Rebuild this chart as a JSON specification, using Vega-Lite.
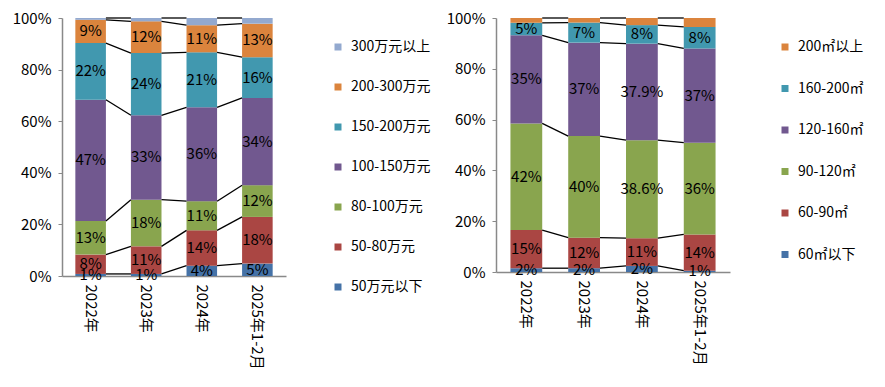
{
  "$schema": "https://vega.github.io/schema/vega-lite/v6.json",
  "padding": {"left": 12, "top": 11, "right": 5, "bottom": 5},
  "config": {
    "font": "Noto Sans CJK SC",
    "view": {"stroke": null},
    "axisY": {"grid": false, "values": [0, 0.2, 0.4, 0.6, 0.8, 1], "format": ".0%", "domainColor": "#898989", "domainWidth": 1.5, "tickColor": "#898989", "tickSize": 4, "labelFontSize": 15, "labelColor": "#000", "labelPadding": 7},
    "axisX": {"grid": false, "labelAngle": 90, "labelAlign": "left", "labelBaseline": "middle", "ticks": false, "domainColor": "#898989", "domainWidth": 1.5, "labelFontSize": 15, "labelColor": "#000", "labelPadding": 8},
    "legend": {"symbolType": "square", "symbolSize": 49, "symbolStrokeWidth": 0, "labelFontSize": 14, "labelColor": "#000", "labelOffset": 6, "padding": 0}
  },
  "datasets": {
    "price": [
      {"cat": "2022年", "s": "50万元以下", "o": 0, "v": 0.8, "label": "1%"},
      {"cat": "2022年", "s": "50-80万元", "o": 1, "v": 7.5, "label": "8%"},
      {"cat": "2022年", "s": "80-100万元", "o": 2, "v": 13.0, "label": "13%"},
      {"cat": "2022年", "s": "100-150万元", "o": 3, "v": 47.0, "label": "47%"},
      {"cat": "2022年", "s": "150-200万元", "o": 4, "v": 22.0, "label": "22%"},
      {"cat": "2022年", "s": "200-300万元", "o": 5, "v": 9.0, "label": "9%"},
      {"cat": "2022年", "s": "300万元以上", "o": 6, "v": 0.7, "label": ""},
      {"cat": "2023年", "s": "50万元以下", "o": 0, "v": 0.8, "label": "1%"},
      {"cat": "2023年", "s": "50-80万元", "o": 1, "v": 10.7, "label": "11%"},
      {"cat": "2023年", "s": "80-100万元", "o": 2, "v": 18.1, "label": "18%"},
      {"cat": "2023年", "s": "100-150万元", "o": 3, "v": 32.7, "label": "33%"},
      {"cat": "2023年", "s": "150-200万元", "o": 4, "v": 24.1, "label": "24%"},
      {"cat": "2023年", "s": "200-300万元", "o": 5, "v": 12.3, "label": "12%"},
      {"cat": "2023年", "s": "300万元以上", "o": 6, "v": 1.3, "label": ""},
      {"cat": "2024年", "s": "50万元以下", "o": 0, "v": 4.0, "label": "4%"},
      {"cat": "2024年", "s": "50-80万元", "o": 1, "v": 13.7, "label": "14%"},
      {"cat": "2024年", "s": "80-100万元", "o": 2, "v": 11.3, "label": "11%"},
      {"cat": "2024年", "s": "100-150万元", "o": 3, "v": 36.4, "label": "36%"},
      {"cat": "2024年", "s": "150-200万元", "o": 4, "v": 21.3, "label": "21%"},
      {"cat": "2024年", "s": "200-300万元", "o": 5, "v": 10.5, "label": "11%"},
      {"cat": "2024年", "s": "300万元以上", "o": 6, "v": 2.8, "label": ""},
      {"cat": "2025年1-2月", "s": "50万元以下", "o": 0, "v": 4.8, "label": "5%"},
      {"cat": "2025年1-2月", "s": "50-80万元", "o": 1, "v": 18.1, "label": "18%"},
      {"cat": "2025年1-2月", "s": "80-100万元", "o": 2, "v": 12.3, "label": "12%"},
      {"cat": "2025年1-2月", "s": "100-150万元", "o": 3, "v": 33.8, "label": "34%"},
      {"cat": "2025年1-2月", "s": "150-200万元", "o": 4, "v": 15.8, "label": "16%"},
      {"cat": "2025年1-2月", "s": "200-300万元", "o": 5, "v": 13.0, "label": "13%"},
      {"cat": "2025年1-2月", "s": "300万元以上", "o": 6, "v": 2.2, "label": ""}
    ],
    "area": [
      {"cat": "2022年", "s": "60㎡以下", "o": 0, "v": 1.5, "label": "2%"},
      {"cat": "2022年", "s": "60-90㎡", "o": 1, "v": 15.0, "label": "15%"},
      {"cat": "2022年", "s": "90-120㎡", "o": 2, "v": 42.0, "label": "42%"},
      {"cat": "2022年", "s": "120-160㎡", "o": 3, "v": 34.7, "label": "35%"},
      {"cat": "2022年", "s": "160-200㎡", "o": 4, "v": 4.9, "label": "5%"},
      {"cat": "2022年", "s": "200㎡以上", "o": 5, "v": 1.9, "label": ""},
      {"cat": "2023年", "s": "60㎡以下", "o": 0, "v": 1.5, "label": "2%"},
      {"cat": "2023年", "s": "60-90㎡", "o": 1, "v": 12.0, "label": "12%"},
      {"cat": "2023年", "s": "90-120㎡", "o": 2, "v": 40.0, "label": "40%"},
      {"cat": "2023年", "s": "120-160㎡", "o": 3, "v": 36.8, "label": "37%"},
      {"cat": "2023年", "s": "160-200㎡", "o": 4, "v": 7.9, "label": "7%"},
      {"cat": "2023年", "s": "200㎡以上", "o": 5, "v": 1.8, "label": ""},
      {"cat": "2024年", "s": "60㎡以下", "o": 0, "v": 2.4, "label": "2%"},
      {"cat": "2024年", "s": "60-90㎡", "o": 1, "v": 10.9, "label": "11%"},
      {"cat": "2024年", "s": "90-120㎡", "o": 2, "v": 38.6, "label": "38.6%"},
      {"cat": "2024年", "s": "120-160㎡", "o": 3, "v": 38.0, "label": "37.9%"},
      {"cat": "2024年", "s": "160-200㎡", "o": 4, "v": 7.3, "label": "8%"},
      {"cat": "2024年", "s": "200㎡以上", "o": 5, "v": 2.8, "label": ""},
      {"cat": "2025年1-2月", "s": "60㎡以下", "o": 0, "v": 0.5, "label": "1%"},
      {"cat": "2025年1-2月", "s": "60-90㎡", "o": 1, "v": 14.3, "label": "14%"},
      {"cat": "2025年1-2月", "s": "90-120㎡", "o": 2, "v": 36.1, "label": "36%"},
      {"cat": "2025年1-2月", "s": "120-160㎡", "o": 3, "v": 37.1, "label": "37%"},
      {"cat": "2025年1-2月", "s": "160-200㎡", "o": 4, "v": 8.5, "label": "8%"},
      {"cat": "2025年1-2月", "s": "200㎡以上", "o": 5, "v": 3.5, "label": ""}
    ]
  },
  "spacing": 15,
  "hconcat": [
    {
      "width": 224,
      "height": 258,
      "data": {"name": "price"},
      "layer": [
        {
          "mark": {"type": "bar"},
          "encoding": {
            "x": {"field": "cat", "type": "nominal", "title": null, "scale": {"paddingInner": 0.45, "paddingOuter": 0.24}},
            "y": {"field": "v", "type": "quantitative", "stack": "normalize", "title": null},
            "order": {"field": "o"},
            "color": {
              "field": "s", "type": "nominal",
              "scale": {
                "domain": ["300万元以上", "200-300万元", "150-200万元", "100-150万元", "80-100万元", "50-80万元", "50万元以下"],
                "range": ["#93A9CF", "#DB843D", "#4198AF", "#71588F", "#89A54E", "#AA4643", "#4572A7"]
              },
              "legend": {"title": null, "orient": "none", "legendX": 269, "legendY": 22, "rowPadding": 26}
            }
          }
        },
        {
          "mark": {"type": "text", "fontSize": 15, "color": "#000"},
          "encoding": {
            "x": {"field": "cat", "type": "nominal", "title": null},
            "y": {"field": "v", "type": "quantitative", "stack": "normalize", "bandPosition": 0.5, "title": null},
            "order": {"field": "o"},
            "text": {"field": "label"}
          }
        },
        {
          "transform": [
            {"stack": "v", "groupby": ["cat"], "sort": [{"field": "o", "order": "ascending"}], "as": ["y0", "y1"], "offset": "normalize"},
            {"window": [{"op": "lead", "field": "y1", "as": "ny1"}, {"op": "lead", "field": "cat", "as": "ncat"}], "groupby": ["s"], "sort": [{"field": "cat", "order": "ascending"}]},
            {"filter": "datum.ncat != null"}
          ],
          "mark": {"type": "rule", "color": "#000", "strokeWidth": 1.3},
          "encoding": {
            "x": {"field": "cat", "type": "nominal", "bandPosition": 1, "title": null},
            "x2": {"field": "ncat", "bandPosition": 0},
            "y": {"field": "y1", "type": "quantitative", "title": null},
            "y2": {"field": "ny1"}
          }
        }
      ]
    },
    {
      "width": 234,
      "height": 254,
      "data": {"name": "area"},
      "layer": [
        {
          "mark": {"type": "bar"},
          "encoding": {
            "x": {"field": "cat", "type": "nominal", "title": null, "scale": {"paddingInner": 0.45, "paddingOuter": 0.25}},
            "y": {"field": "v", "type": "quantitative", "stack": "normalize", "title": null},
            "order": {"field": "o"},
            "color": {
              "field": "s", "type": "nominal",
              "scale": {
                "domain": ["200㎡以上", "160-200㎡", "120-160㎡", "90-120㎡", "60-90㎡", "60㎡以下"],
                "range": ["#DB843D", "#4198AF", "#71588F", "#89A54E", "#AA4643", "#4572A7"]
              },
              "legend": {"title": null, "orient": "none", "legendX": 282, "legendY": 22, "rowPadding": 27.5}
            }
          }
        },
        {
          "mark": {"type": "text", "fontSize": 15, "color": "#000"},
          "encoding": {
            "x": {"field": "cat", "type": "nominal", "title": null},
            "y": {"field": "v", "type": "quantitative", "stack": "normalize", "bandPosition": 0.5, "title": null},
            "order": {"field": "o"},
            "text": {"field": "label"}
          }
        },
        {
          "transform": [
            {"stack": "v", "groupby": ["cat"], "sort": [{"field": "o", "order": "ascending"}], "as": ["y0", "y1"], "offset": "normalize"},
            {"window": [{"op": "lead", "field": "y1", "as": "ny1"}, {"op": "lead", "field": "cat", "as": "ncat"}], "groupby": ["s"], "sort": [{"field": "cat", "order": "ascending"}]},
            {"filter": "datum.ncat != null"}
          ],
          "mark": {"type": "rule", "color": "#000", "strokeWidth": 1.3},
          "encoding": {
            "x": {"field": "cat", "type": "nominal", "bandPosition": 1, "title": null},
            "x2": {"field": "ncat", "bandPosition": 0},
            "y": {"field": "y1", "type": "quantitative", "title": null},
            "y2": {"field": "ny1"}
          }
        }
      ]
    }
  ],
  "resolve": {"scale": {"color": "independent", "x": "independent", "y": "independent"}}
}
